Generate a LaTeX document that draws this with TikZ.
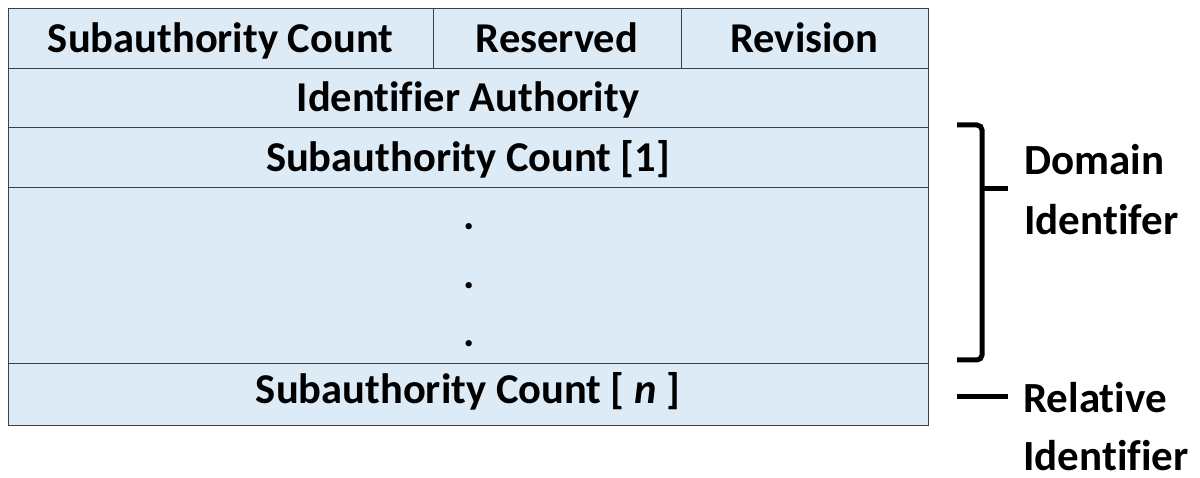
\documentclass[tikz,border=0pt]{standalone}
\usepackage{fontspec}
\setmainfont{Carlito}[Ligatures={NoCommon}]
\definecolor{cellfill}{HTML}{DDEBF7}
\definecolor{gridline}{HTML}{404040}
\begin{document}
\begin{tikzpicture}[x=1pt,y=-1pt,
  cell/.style={draw=gridline,line width=1.4pt,fill=cellfill,inner sep=0pt,anchor=north west},
  lbl/.style={font=\bfseries\fontsize{42.5}{46}\selectfont,anchor=base,inner sep=0pt},
  side/.style={font=\bfseries\fontsize{43}{46}\selectfont,anchor=base west,inner sep=0pt},
  brace/.style={line width=5pt,black,rounded corners=5pt},
  dotlbl/.style={font=\bfseries\fontsize{42.5}{46}\selectfont,inner sep=0pt}]
\useasboundingbox (0,0) rectangle (1200,478);
% cells
\node[cell,minimum width=425pt,minimum height=60pt] (c1) at (8,8) {};
\node[cell,minimum width=248pt,minimum height=60pt] (c2) at (433,8) {};
\node[cell,minimum width=247pt,minimum height=60pt] (c3) at (681,8) {};
\node[cell,minimum width=920pt,minimum height=59pt] (r2) at (8,68) {};
\node[cell,minimum width=920pt,minimum height=60pt] (r3) at (8,127) {};
\node[cell,minimum width=920pt,minimum height=176pt] (r4) at (8,187) {};
\node[cell,minimum width=920pt,minimum height=62pt] (r5) at (8,363) {};
% labels
\node[lbl] (t1) at (220.5,53) {Subauthority Count};
\node[lbl] (t2) at (557,53) {Reserved};
\node[lbl] (t3) at (804.5,53) {Revision};
\node[lbl] (t4) at (468,112) {Identifier Authority};
\node[lbl] (t5) at (468,172) {Subauthority Count [1]};
\node[dotlbl] (d1) at (469,227) {.};
\node[dotlbl] (d2) at (469,286) {.};
\node[dotlbl] (d3) at (469,344) {.};
\node[lbl] (t6) at (468,403) {Subauthority Count [ \textit{n} ]};
% brace
\coordinate (bt) at (957,125);
\coordinate (bb) at (957,360);
\coordinate (btip) at (1008,189);
\draw[brace] (bt) -- (982,125) -- (982,360) -- (bb);
\draw[line width=5pt] (982,189) -- (btip);
\node[side] (dom) at (1024,175) {Domain};
\node[side] (idf) at (1024,235) {Identifer};
% relative
\coordinate (ra) at (957,396);
\coordinate (rb) at (1008,396);
\draw[line width=5pt] (ra) -- (rb);
\node[side] (rel) at (1023,413) {Relative};
\node[side] (rid) at (1023,470) {Identifier};
\end{tikzpicture}
\end{document}
